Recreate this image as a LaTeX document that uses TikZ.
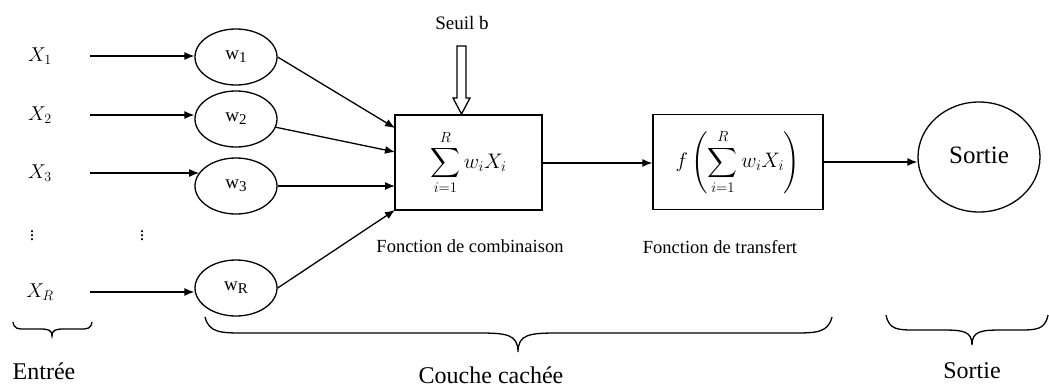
\RequirePackage{fix-cm}
\documentclass[tikz,border=0pt]{standalone}
\usepackage{amsmath}
\usepackage{fontspec}
\setmainfont{Liberation Serif}
\usetikzlibrary{arrows.meta,shapes.geometric,calc}
\newcommand\drawbrace[7]{% xL, xR, xm, y0 (ends), y1 (flat), y2 (tip), d
  \draw[line width=1.3pt] (#1,#4) .. controls (#1+0.1*#7,#5) and (#1+0.4*#7,#5) .. (#1+#7,#5)
    -- (#3-#7,#5) .. controls (#3-0.3*#7,#5) and (#3,#5+1) .. (#3,#6)
    .. controls (#3,#5+1) and (#3+0.3*#7,#5) .. (#3+#7,#5)
    -- (#2-#7,#5) .. controls (#2-0.4*#7,#5) and (#2-0.1*#7,#5) .. (#2,#4);}
\begin{document}
\begin{tikzpicture}[x=1pt,y=-1pt,
  arr/.style={-{Latex[length=10pt,width=8pt]}, line width=1.3pt},
  wnode/.style={draw, line width=1.3pt, ellipse, minimum width=82pt, minimum height=56pt, inner sep=0pt, font=\fontsize{19}{19}\selectfont},
  xlab/.style={minimum width=100pt, inner sep=0pt, font=\fontsize{20}{24}\selectfont},
  boxnode/.style={draw, line width=1.3pt, minimum height=95pt, inner sep=0pt, font=\fontsize{21}{25}\selectfont},
  small/.style={font=\fontsize{18.5}{20}\selectfont},
  big/.style={font=\fontsize{24}{26}\selectfont}]
\useasboundingbox (0,0) rectangle (1049,389);
% inputs
\node[xlab] (x1) at (40,56) {$X_1$};
\node[xlab] (x2) at (40,115) {$X_2$};
\node[xlab] (x3) at (40,173) {$X_3$};
\node[xlab] (xR) at (40,292) {$X_R$};
\node[font=\fontsize{18}{20}\selectfont] (d1) at (32,233) {$\vdots$};
\node[font=\fontsize{18}{20}\selectfont] (d2) at (142,233) {$\vdots$};
% weights
\node[wnode] (w1) at (236,57) {w\raisebox{-3pt}{\fontsize{15}{15}\selectfont 1}};
\node[wnode] (w2) at (236,119) {w\raisebox{-3pt}{\fontsize{15}{15}\selectfont 2}};
\node[wnode] (w3) at (236,186) {w\raisebox{-3pt}{\fontsize{15}{15}\selectfont 3}};
\node[wnode] (wR) at (236,288) {w\raisebox{-3pt}{\fontsize{15}{15}\selectfont R}};
\draw[arr] (x1.east) -- (x1.east -| w1.west);
\draw[arr] (x2.east) -- (x2.east -| w2.west);
\draw[arr] (x3.east) -- (x3.east -| w3.160);
\draw[arr] (xR.east) -- (xR.east -| wR.west);
% combination box
\node[boxnode, minimum width=147pt] (b1) at (468.5,162.5) {$\displaystyle\sum_{i=1}^{R} w_i X_i$};
\coordinate (in1) at (395,128);
\coordinate (in2) at (395,152);
\coordinate (in3) at (395,186);
\coordinate (in4) at (395,210);
\draw[arr] (w1.east) -- (in1);
\draw[arr] (w2) -- (in2);
\draw[arr] (w3.east) -- (in3);
\draw[arr] (wR.east) -- (in4);
% threshold
\node[font=\fontsize{19}{20}\selectfont] (seuil) at (462,23) {Seuil b};
\draw[line width=1.3pt, fill=white] (457,46) -- (466,46) -- (466,98) -- (470,98) -- (461.5,114) -- (453,98) -- (457,98) -- cycle;
% transfer box
\node[boxnode, minimum width=170pt] (b2) at (738,162) {$\displaystyle f\left(\sum_{i=1}^{R} w_i X_i\right)$};
\draw[arr] (b1.east |- 0,163) -- (b2.west |- 0,163);
% output
\node[draw, line width=1.3pt, ellipse, minimum width=122pt, minimum height=110pt, inner sep=0pt, font=\fontsize{25}{27}\selectfont] (out) at (979,157) {\raisebox{4pt}{Sortie}};
\draw[arr] (b2.east) -- (b2.east -| out.west);
% labels
\node[small] (lc) at (470,246) {Fonction de combinaison};
\node[small] (lt) at (720,247) {Fonction de transfert};
% braces
\drawbrace{13}{92}{52}{322}{329}{336}{12}
\drawbrace{205}{832}{518}{317}{333}{352}{40}
\drawbrace{886}{1048}{972}{315}{330}{345}{30}
\node[big] (le) at (44,371) {Entrée};
\node[big] (lh) at (491,375) {Couche cachée};
\node[big] (ls) at (972,371) {Sortie};
\end{tikzpicture}
\end{document}
